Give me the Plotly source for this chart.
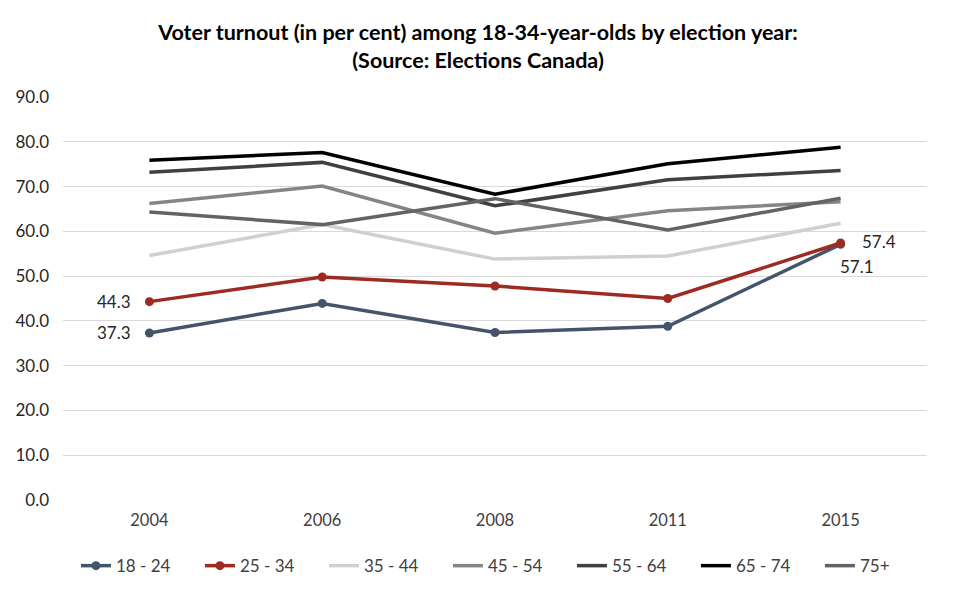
import plotly.graph_objects as go

years = ["2004", "2006", "2008", "2011", "2015"]
series_names = ["18 - 24", "25 - 34", "35 - 44", "45 - 54", "55 - 64", "65 - 74", "75+"]
v_18_24 = [37.3, 43.9, 37.4, 38.8, 57.1]
v_25_34 = [44.3, 49.8, 47.8, 45.0, 57.4]
v_35_44 = [54.6, 61.5, 53.8, 54.5, 61.8]
v_45_54 = [66.2, 70.1, 59.6, 64.6, 66.6]
v_55_64 = [73.2, 75.4, 65.7, 71.5, 73.6]
v_65_74 = [75.9, 77.6, 68.3, 75.1, 78.8]
v_75p = [64.3, 61.5, 67.3, 60.3, 67.4]
values = [v_18_24, v_25_34, v_35_44, v_45_54, v_55_64, v_65_74, v_75p]

colors = ["#44546A", "#9E2A22", "#D0D0D0", "#858585", "#404040", "#000000", "#636363"]
markers = [True, True, False, False, False, False, False]

# data labels: (series index, point index)
labelled_points = [(0, 0), (1, 0), (1, 4), (0, 4)]
label_offsets = {(0, 0): (-35, 0), (1, 0): (-35, 0), (1, 4): (38, 1), (0, 4): (16, -22)}

FONT = "Lato, 'Open Sans', sans-serif"

fig = go.Figure()
for i, (name, vals) in enumerate(zip(series_names, values)):
    fig.add_trace(go.Scatter(
        x=years, y=vals, name=name,
        mode="lines+markers" if markers[i] else "lines",
        line=dict(color=colors[i], width=3.5),
        marker=dict(size=9, color=colors[i]),
        cliponaxis=False,
    ))

for (si, pi) in labelled_points:
    dx, dy = label_offsets[(si, pi)]
    v = values[si][pi]
    fig.add_annotation(
        x=pi, y=v, xref="x", yref="y", text=f"{v:.1f}", showarrow=False,
        xshift=dx, yshift=dy,
        font=dict(family=FONT, size=17, color="#262626"),
    )

fig.update_layout(
    width=956, height=597,
    paper_bgcolor="white", plot_bgcolor="white",
    margin=dict(l=63, r=26, t=97, b=97),
    font=dict(family=FONT, color="#404040", size=16),
    title=dict(
        text="Voter turnout (in per cent) among 18-34-year-olds by election year:<br>(Source: Elections Canada)",
        x=0.5, xanchor="center", y=1 - 40 / 597, yanchor="top",
        font=dict(family=FONT, size=21.5, color="#000000", weight="bold"),
    ),
    xaxis=dict(
        type="category", range=[-0.5, 4.5], showgrid=False, showline=False, ticks="",
        tickfont=dict(family=FONT, size=16.5, color="#404040"),
        automargin=False, ticklabelstandoff=8,
    ),
    yaxis=dict(
        range=[0, 90], dtick=10, tickformat=".1f",
        showgrid=True, gridcolor="#D9D9D9", gridwidth=1.3,
        zeroline=False, showline=False, ticks="",
        tickfont=dict(family=FONT, size=17, color="#262626"),
        ticklabelstandoff=13, automargin=False,
    ),
    legend=dict(
        orientation="h", x=1.0196, xanchor="right", y=-0.164, yanchor="middle",
        font=dict(family=FONT, size=17, color="#404040"),
        entrywidth=79, traceorder="normal",
    ),
    showlegend=True,
)

fig.write_html(
    "out.html",
    config={"displayModeBar": False},
    post_script="document.body.style.margin='0';document.body.style.overflow='hidden';",
)
